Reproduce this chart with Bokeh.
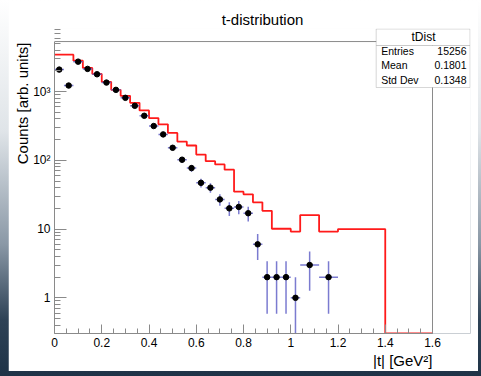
import numpy as np
from bokeh.plotting import figure
from bokeh.models import FixedTicker, Label, BoxAnnotation, Range1d, Spacer, Title
from bokeh.layouts import row, column
from bokeh.embed import file_html
from bokeh.resources import INLINE

# ---------------- data ----------------
bin_edges = [0.00, 0.04, 0.08, 0.12, 0.16, 0.20, 0.24, 0.28, 0.32, 0.36, 0.40,
             0.44, 0.48, 0.52, 0.56, 0.60, 0.64, 0.68, 0.72, 0.76, 0.80, 0.84,
             0.88, 0.92, 0.96, 1.00, 1.04, 1.12, 1.20, 1.40, 1.60]
data_counts = [2084, 1222, 2720, 2133, 1783, 1350, 1057, 810, 620, 444, 315,
               238, 152, 102, 77, 47, 40, 27, 20, 21, 17, 6, 2, 2, 2, 1,
               3, 2, 0, 0]
sim_counts = [3437, 3437, 2813, 2205, 1805, 1381, 1057, 865, 686, 531, 411,
              333, 250, 187, 164, 121, 97, 87, 73, 35, 32, 24.5, 18.4, 10.1,
              10.1, 9.2, 16, 9.2, 10, 0]
x_ticks = [0.0, 0.2, 0.4, 0.6, 0.8, 1.0, 1.2, 1.4, 1.6]
x_tick_labels = ["0", "0.2", "0.4", "0.6", "0.8", "1", "1.2", "1.4", "1.6"]
y_ticks = [1, 10, 100, 1000]
y_tick_labels = ["1", "10", "10\u00b2", "10\u00b3"]
stats_title = "tDist"
stats_names = ["Entries", "Mean", "Std Dev"]
stats_values = ["15256", "0.1801", "0.1348"]

X_MIN, X_MAX = 0.0, 1.6          # histogram axis range
Y_MIN, Y_MAX = 0.303, 5330       # histogram axis range
FONT = "Liberation Sans"
GRAY = "#8a8a8a"

# frame is extended to the right / top so that the stats box can sit inside it
X_END = X_MAX * 416 / 378
Y_END = 10 ** (np.log10(Y_MIN) + 305 / 68.77)

edges = np.array(bin_edges)
lo, hi = edges[:-1], edges[1:]
centers = (lo + hi) / 2
counts = np.array(data_counts, dtype=float)
err = np.sqrt(counts)
m = counts > 0

p = figure(width=470, height=371, x_range=Range1d(X_MIN, X_END),
           y_range=Range1d(Y_MIN, Y_END), y_axis_type="log",
           output_backend="svg", toolbar_location=None,
           min_border_left=46, min_border_right=8,
           min_border_top=28, min_border_bottom=38,
           title="t-distribution")
p.background_fill_color = "white"
p.border_fill_color = "white"
p.outline_line_color = None
p.grid.visible = False

p.title.align = "center"
p.title.offset = -19
p.title.text_font = FONT
p.title.text_font_size = "15px"
p.title.text_font_style = "normal"
p.title.text_color = "black"
p.title.standoff = 2

# axes
minor_x = [round(0.05 * i, 2) for i in range(33) if i % 4 != 0]
p.xaxis.ticker = FixedTicker(ticks=x_ticks, minor_ticks=minor_x)
p.xaxis.major_label_overrides = {t: l for t, l in zip(x_ticks, x_tick_labels)}
p.xaxis.bounds = (X_MIN, X_MAX)
minor_y = [k * 10.0 ** d for d in range(-1, 4) for k in range(2, 10)]
p.yaxis.ticker = FixedTicker(ticks=y_ticks, minor_ticks=minor_y)
p.yaxis.major_label_overrides = {t: l for t, l in zip(y_ticks, y_tick_labels)}
p.yaxis.bounds = (Y_MIN, Y_MAX)

for ax in (p.xaxis, p.yaxis):
    ax.axis_line_color = GRAY
    ax.major_tick_line_color = GRAY
    ax.minor_tick_line_color = GRAY
    ax.major_tick_out = 0
    ax.minor_tick_out = 0
    ax.major_label_text_font = FONT
    ax.major_label_text_font_size = "12px"
    ax.major_label_text_color = "black"
    ax.major_label_standoff = 4
p.xaxis.major_tick_in = 9
p.xaxis.minor_tick_in = 5
p.yaxis.major_tick_in = 12
p.yaxis.minor_tick_in = 6

# remaining frame border (top and right)
p.segment([X_MIN, X_MAX], [Y_MAX, Y_MIN], [X_MAX, X_MAX], [Y_MAX, Y_MAX],
          line_color=GRAY, line_width=1)

# red histogram (step outline)
sim = np.array(sim_counts, dtype=float)
ys = np.maximum(np.append(sim, sim[-1]), Y_MIN)
p.step(edges, ys, mode="after", line_color="#ff1a1a", line_width=1.8)

# data with error bars
p.segment(lo[m], counts[m], hi[m], counts[m], line_color="#6464c8", line_width=1.5, line_alpha=0.85)
p.segment(centers[m], np.maximum(counts[m] - err[m], 1e-3), centers[m], counts[m] + err[m],
          line_color="#6464c8", line_width=1.5, line_alpha=0.85)
p.scatter(centers[m], counts[m], size=5.5, color="black")

# axis titles
p.add_layout(Title(text="|t| [GeV\u00b2]", align="right", offset=38, standoff=0,
                   text_font=FONT, text_font_size="15px", text_font_style="normal",
                   text_color="black"), "below")
p.add_layout(Title(text="Counts [arb. units]", align="right", offset=14, standoff=0,
                   text_font=FONT, text_font_size="15px", text_font_style="normal",
                   text_color="black"), "left")

# stats box
box_kw = dict(left_units="screen", right_units="screen", top_units="screen",
              bottom_units="screen", fill_color="white", fill_alpha=1,
              line_color="#7a7a7a", line_width=1, level="overlay")
p.add_layout(BoxAnnotation(left=321.7, right=415.5, top=304.5, bottom=288, **box_kw))
p.add_layout(BoxAnnotation(left=321.7, right=415.5, top=288, bottom=246, **box_kw))
p.add_layout(Label(x=369, y=296.5, x_units="screen", y_units="screen",
                   text=stats_title, text_align="center", text_baseline="middle",
                   text_font=FONT, text_font_size="12px", text_color="black",
                   level="overlay"))
row_y = [282.3, 268.3, 254]
for name, val, yy in zip(stats_names, stats_values, row_y):
    p.add_layout(Label(x=326.7, y=yy, x_units="screen", y_units="screen",
                       text=name, text_align="left", text_baseline="middle",
                       text_font=FONT, text_font_size="10.5px", text_color="black",
                       level="overlay"))
    p.add_layout(Label(x=412, y=yy, x_units="screen", y_units="screen",
                       text=val, text_align="right", text_baseline="middle",
                       text_font=FONT, text_font_size="10.5px", text_color="black",
                       level="overlay"))

layout = column(row(Spacer(width=8, height=371), p, Spacer(width=3, height=371)),
                Spacer(width=481, height=5),
                styles={"background": "linear-gradient(to bottom, #ffffff 0%, #dfe4e8 35%, #8a98a6 65%, #2e4256 85%, #1f3347 100%)"})

open("out.html", "w").write(file_html(layout, INLINE))
